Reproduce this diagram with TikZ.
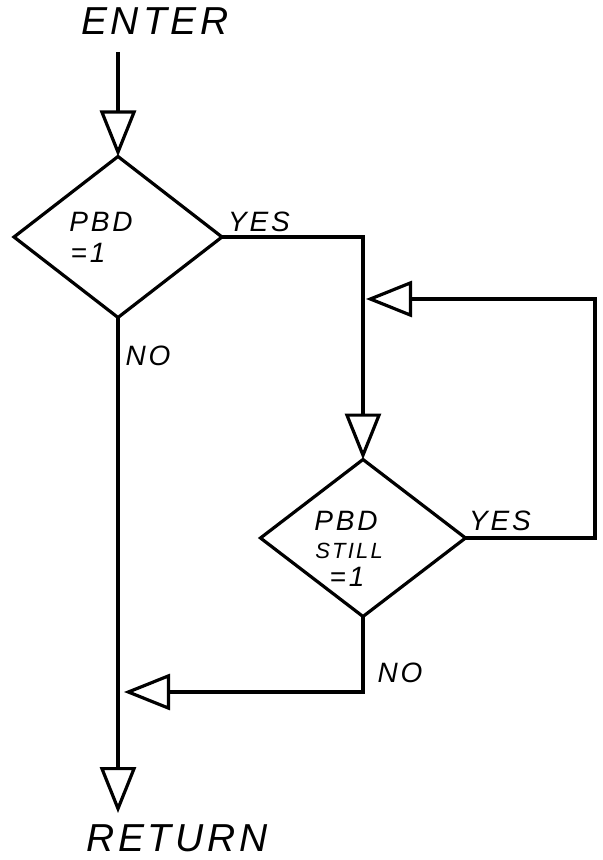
\documentclass[tikz,border=0pt]{standalone}
\usepackage{fontspec}
\setmainfont{Liberation Sans}[LetterSpace=10]
\usepackage{tikz}
\usetikzlibrary{shapes.geometric, arrows.meta}

\begin{document}
\begin{tikzpicture}[x=0.5pt, y=-0.5pt, line width=1.6pt,
    test/.style={draw, diamond, inner sep=0pt, outer sep=0pt},
    flow/.style={-{Triangle[open, length=23pt, width=18pt]}},
    big/.style={font=\fontsize{19.5}{20}\selectfont\itshape, inner sep=1pt},
    mid/.style={font=\fontsize{14}{15}\selectfont\itshape},
    tiny/.style={font=\fontsize{11}{12}\selectfont\itshape}]
  \useasboundingbox (0, 0) rectangle (602, 860);

  % Entry
  \node[big] (enter) at (155, 21) {ENTER};
  \coordinate (start) at (118, 52);

  % First test
  \node[test, minimum width=104pt, minimum height=80.5pt] (d1) at (118, 237) {};
  \node[mid] (d1a) at (101, 222) {PBD};
  \node[mid] (d1b) at (88, 253) {=1};
  \node[mid] (yes1) at (259, 222) {YES};
  \node[mid] (no1) at (148, 356) {NO};

  % Second test
  \node[test, minimum width=102.5pt, minimum height=78.5pt] (d2) at (363, 538) {};
  \node[mid] (d2a) at (346, 521) {PBD};
  \node[tiny] (d2b) at (349, 551) {STILL};
  \node[mid] (d2c) at (347, 577) {=1};
  \node[mid] (yes2) at (500, 521) {YES};
  \node[mid] (no2) at (400, 673) {NO};

  % Exit
  \node[big, anchor=base] (ret) at (177, 851) {RETURN};
  \coordinate (stop) at (118, 813);

  % Joins
  \coordinate (loop) at (595, 299);
  \coordinate (j1) at (366, 299);
  \coordinate (j2) at (124, 692);

  \draw[flow] (start) -- (d1.north);
  \draw[flow] (d1.east) -| (d2.north);
  \draw[flow] (d2.east) -| (loop) -- (j1);
  \draw[flow] (d2.south) |- (j2);
  \draw[flow] (d1.south) -- (stop);

\end{tikzpicture}
\end{document}
